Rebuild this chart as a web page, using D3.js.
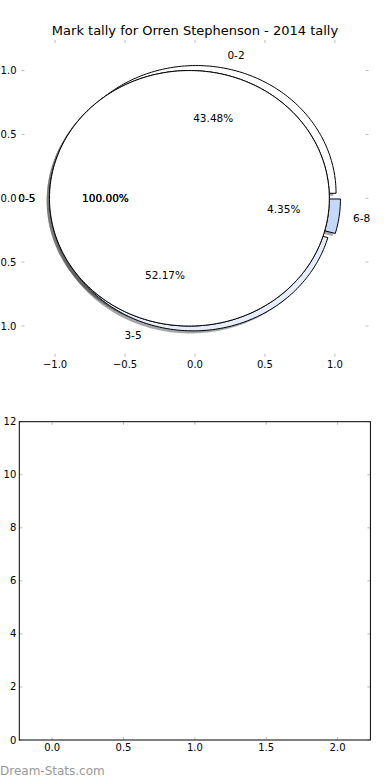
<!DOCTYPE html>
<html>
<head>
<meta charset="utf-8">
<script src="https://cdn.jsdelivr.net/npm/d3@7"></script>
<style>
  body { margin: 0; background: #fff; }
  text { font-family: "DejaVu Sans", sans-serif; }
</style>
</head>
<body>
<div id="chart"></div>
<script>
// pie data (tally by mark range)
var pieLabels = ["0-2", "3-5", "6-8"];
var pieCounts = [10, 12, 1];
// second and third pie, a single full wedge each
var fullLabels = ["0-5"];
var fullCounts = [23];
var pieTicks = [-1.0, -0.5, 0.0, 0.5, 1.0];
var barXTicks = [0.0, 0.5, 1.0, 1.5, 2.0];
var barYTicks = [0, 2, 4, 6, 8, 10, 12];

var W = 390, H = 780;
var svg = d3.select("#chart").append("svg")
  .attr("width", W).attr("height", H);

var pieColors = ["#ffffff", "#e6eefc", "#c6d8f9"];
var tickColor = "#bdbdbd";
var fmt = function(v) { return d3.format(".1f")(v).replace("-", "\u2212"); };

// ---------- top axes (pie) ----------
var x = d3.scaleLinear().domain([-1.24, 1.24]).range([21.5, 368.5]);
var y = d3.scaleLinear().domain([-1.24, 1.24]).range([356.7, 39.9]);

svg.append("text")
  .attr("x", W / 2).attr("y", 35)
  .attr("text-anchor", "middle")
  .style("font-size", "13px")
  .text("Mark tally for Orren Stephenson - 2014 tally");

// wedge path in data coordinates -> pixels (axes not equal, so ellipse)
function wedge(cx, cy, t1, t2, ox, oy) {
  ox = ox || 0; oy = oy || 0;
  var n = Math.max(4, Math.ceil((t2 - t1) / 0.02));
  var pts = [[x(cx + ox), y(cy + oy)]];
  for (var i = 0; i <= n; i++) {
    var t = t1 + (t2 - t1) * i / n;
    pts.push([x(cx + ox + Math.cos(t)), y(cy + oy + Math.sin(t))]);
  }
  if (t2 - t1 >= 2 * Math.PI - 1e-6) pts.shift();
  return d3.line()(pts) + "Z";
}

var pie = d3.pie().sort(null).startAngle(0).endAngle(2 * Math.PI);

function layout(counts, labels, explode) {
  return pie(counts).map(function(d, i) {
    var mid = (d.startAngle + d.endAngle) / 2;
    var total = d3.sum(counts);
    return {
      label: labels[i], i: i,
      t1: d.startAngle, t2: d.endAngle, mid: mid,
      cx: explode * Math.cos(mid), cy: explode * Math.sin(mid),
      pct: (100 * d.value / total).toFixed(2) + "%"
    };
  });
}

var pie1 = layout(pieCounts, pieLabels, 0.04);
var pie2 = layout(fullCounts, fullLabels, 0.04);
var pie3 = layout(fullCounts, fullLabels, 0.04);
var allWedges = pie1.concat(pie2, pie3);

// shadows under everything
svg.append("g").selectAll("path")
  .data(allWedges).enter().append("path")
  .attr("d", function(d) { return wedge(d.cx, d.cy, d.t1, d.t2, -0.02, -0.02); })
  .style("fill", "rgb(77,77,77)")
  .style("fill-opacity", 0.5)
  .style("stroke", "none");

svg.append("g").selectAll("path")
  .data(pie1).enter().append("path")
  .attr("d", function(d) { return wedge(d.cx, d.cy, d.t1, d.t2); })
  .style("fill", function(d) { return pieColors[d.i]; })
  .style("stroke", "#000").style("stroke-width", 1);

svg.append("g").selectAll("path")
  .data(pie2.concat(pie3)).enter().append("path")
  .attr("d", function(d) { return wedge(d.cx, d.cy, d.t1, d.t2); })
  .style("fill", "#ffffff")
  .style("stroke", "#000").style("stroke-width", 1);

// labels and percents
var lab = svg.append("g").style("font-size", "10.5px");
allWedges.forEach(function(d) {
  var lx = d.cx + 1.1 * Math.cos(d.mid), ly = d.cy + 1.1 * Math.sin(d.mid);
  lab.append("text")
    .attr("x", x(lx)).attr("y", y(ly))
    .attr("dy", "0.35em")
    .attr("text-anchor", lx > 0 ? "start" : "end")
    .text(d.label);
  lab.append("text")
    .attr("x", x(d.cx + 0.6 * Math.cos(d.mid))).attr("y", y(d.cy + 0.6 * Math.sin(d.mid)))
    .attr("dy", "0.35em")
    .attr("text-anchor", "middle")
    .text(d.pct);
});

// ticks of the pie axes (no spines)
function drawTicks(g, xs, ys, xt, yt, len) {
  var r0 = xs.range(), d0 = ys.range();
  xt.forEach(function(v) {
    g.append("line").attr("x1", xs(v)).attr("x2", xs(v)).attr("y1", d0[0]).attr("y2", d0[0] - len);
    g.append("line").attr("x1", xs(v)).attr("x2", xs(v)).attr("y1", d0[1]).attr("y2", d0[1] + len);
  });
  yt.forEach(function(v) {
    g.append("line").attr("y1", ys(v)).attr("y2", ys(v)).attr("x1", r0[0]).attr("x2", r0[0] + len);
    g.append("line").attr("y1", ys(v)).attr("y2", ys(v)).attr("x1", r0[1]).attr("x2", r0[1] - len);
  });
  g.selectAll("line").style("stroke", tickColor).style("stroke-width", 1);
}
drawTicks(svg.append("g"), x, y, pieTicks, pieTicks, 3);

var tl = svg.append("g").style("font-size", "10px");
pieTicks.forEach(function(v) {
  tl.append("text").attr("x", x(v)).attr("y", y.range()[0] + 4).attr("dy", "0.71em")
    .attr("text-anchor", "middle").text(fmt(v));
  tl.append("text").attr("x", x.range()[0] - 5).attr("y", y(v)).attr("dy", "0.35em")
    .attr("text-anchor", "end").text(fmt(v));
});

// ---------- bottom axes (empty) ----------
var bx = d3.scaleLinear().domain([-0.23, 2.23]).range([19.3, 370.4]);
var by = d3.scaleLinear().domain([0, 12]).range([740, 421.7]);

drawTicks(svg.append("g"), bx, by, barXTicks, barYTicks, 3);

svg.append("rect")
  .attr("x", bx.range()[0]).attr("y", by.range()[1])
  .attr("width", bx.range()[1] - bx.range()[0])
  .attr("height", by.range()[0] - by.range()[1])
  .style("fill", "none").style("stroke", "#000").style("stroke-width", 1);

var bl = svg.append("g").style("font-size", "10px");
barXTicks.forEach(function(v) {
  bl.append("text").attr("x", bx(v)).attr("y", by.range()[0] + 4).attr("dy", "0.71em")
    .attr("text-anchor", "middle").text(fmt(v));
});
barYTicks.forEach(function(v) {
  bl.append("text").attr("x", bx.range()[0] - 3).attr("y", by(v)).attr("dy", "0.35em")
    .attr("text-anchor", "end").text(v);
});

// watermark
svg.append("text")
  .attr("x", 0).attr("y", 775)
  .style("font-size", "12px")
  .style("fill", "#999")
  .text("Dream-Stats.com");
</script>
</body>
</html>
